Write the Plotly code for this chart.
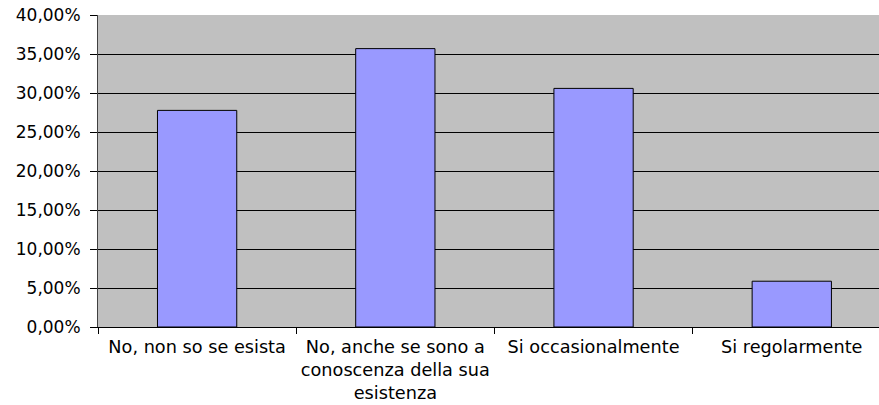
import plotly.graph_objects as go

categories = [
    "No, non so se esista",
    "No, anche se sono a<br>conoscenza della sua<br>esistenza",
    "Si occasionalmente",
    "Si regolarmente",
]
values = [0.2777, 0.3569, 0.3059, 0.0587]
y_ticks = [0, 0.05, 0.10, 0.15, 0.20, 0.25, 0.30, 0.35, 0.40]

fig = go.Figure(
    go.Bar(
        x=categories,
        y=values,
        marker=dict(color="#9999FF", line=dict(color="#000000", width=1)),
    )
)

fig.update_layout(
    width=879,
    height=405,
    margin=dict(l=98, r=0, t=15, b=78),
    paper_bgcolor="white",
    plot_bgcolor="#C0C0C0",
    separators=",.",
    bargap=0.6,
    showlegend=False,
    font=dict(family="DejaVu Sans, Verdana, sans-serif", color="#000000", size=17),
)

fig.update_xaxes(
    type="category",
    range=[-0.5, 3.44],
    tickson="boundaries",
    ticks="outside",
    ticklen=6,
    tickcolor="#000000",
    showgrid=False,
    showline=True,
    linecolor="#000000",
    linewidth=1,
    tickfont=dict(size=17.7),
    tickangle=0,
    ticklabelstandoff=4,
)

fig.update_yaxes(
    range=[0, 0.4],
    tickvals=y_ticks,
    tickformat=".2%",
    ticks="outside",
    ticklen=7,
    tickcolor="#000000",
    showgrid=True,
    gridcolor="#000000",
    gridwidth=1,
    showline=True,
    linecolor="#404040",
    linewidth=1,
    zeroline=False,
    tickfont=dict(size=17),
    ticklabelstandoff=6,
)

fig.write_html("out.html")
